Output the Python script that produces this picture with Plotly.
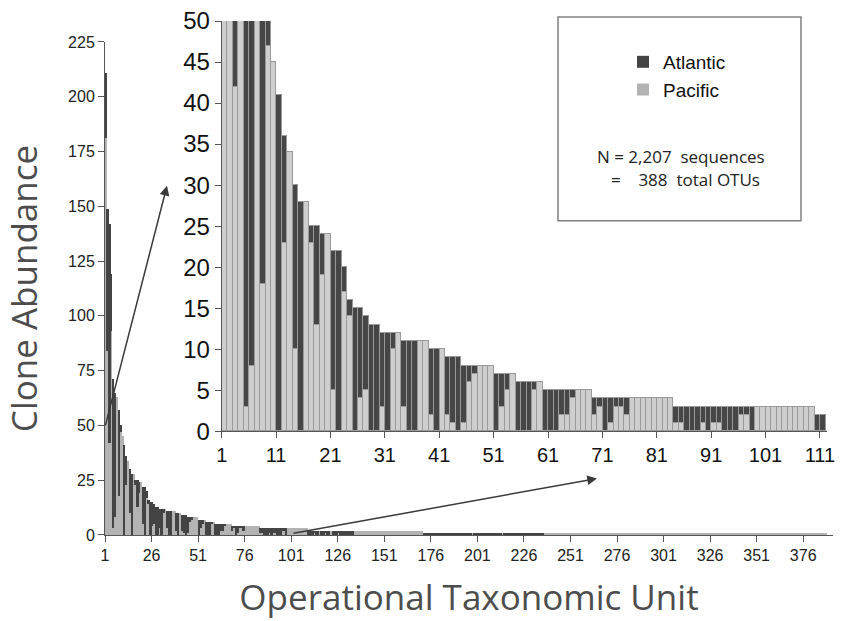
import plotly.graph_objects as go

W, H = 844, 621

# ---------------- data ----------------
otu = list(range(1, 389))

pacific = [
    181, 84, 42, 93, 3, 8, 63, 18, 47, 45, 0, 23, 34, 10, 0, 28, 23, 13, 19, 24,
    5, 0, 17, 14, 0, 4, 5, 0, 0, 3, 0, 10, 12, 3, 0, 0, 11, 11, 2, 0,
    10, 2, 1, 0, 1, 6, 7, 8, 8, 8, 0, 3, 5, 7, 0, 0, 0, 5, 6, 0,
    0, 0, 2, 2, 4, 5, 5, 5, 2, 3, 0, 1, 3, 3, 2, 4, 4, 4, 4, 4,
    4, 4, 4, 1, 1, 0, 0, 0, 1, 0, 1, 1, 0, 0, 0, 2, 2, 0, 3, 3,
    3, 3, 3, 3, 3, 3, 3, 3, 3, 0, 0, 0, 1, 0, 0, 2, 0, 0, 1, 0,
    0, 2, 0, 0, 0, 1, 0, 0, 0, 0, 0, 0, 0, 0, 2, 2, 2, 2, 2, 2,
    2, 2, 2, 2, 2, 2, 2, 2, 2, 2, 2, 2, 2, 2, 2, 2, 2, 2, 2, 2,
    2, 2, 2, 2, 2, 2, 2, 2, 2, 2, 2, 0, 0, 0, 0, 0, 0, 0, 0, 0,
    0, 0, 0, 0, 0, 0, 0, 0, 0, 0, 0, 0, 0, 0, 0, 0, 0, 1, 0, 0,
    0, 0, 0, 0, 0, 0, 0, 0, 0, 0, 0, 0, 0, 1, 0, 0, 0, 0, 0, 0,
    0, 0, 0, 0, 0, 0, 0, 0, 0, 0, 0, 0, 0, 0, 0, 0, 1, 1, 1, 1,
    1, 1, 1, 1, 1, 1, 1, 1, 1, 1, 1, 1, 1, 1, 1, 1, 1, 1, 1, 1,
    1, 1, 1, 1, 1, 1, 1, 1, 1, 1, 1, 1, 1, 1, 1, 1, 1, 1, 1, 1,
    1, 1, 1, 1, 1, 1, 1, 1, 1, 1, 1, 1, 1, 1, 1, 1, 1, 1, 1, 1,
    1, 1, 1, 1, 1, 1, 1, 1, 1, 1, 1, 1, 1, 1, 1, 1, 1, 1, 1, 1,
    1, 1, 1, 1, 1, 1, 1, 1, 1, 1, 1, 1, 1, 1, 1, 1, 1, 1, 1, 1,
    1, 1, 1, 1, 1, 1, 1, 1, 1, 1, 1, 1, 1, 1, 1, 1, 1, 1, 1, 1,
    1, 1, 1, 1, 1, 1, 1, 1, 1, 1, 1, 1, 1, 1, 1, 1, 1, 1, 1, 1,
    1, 1, 1, 1, 1, 1, 1, 1,
]

atlantic = [
    30, 65, 100, 26, 68, 57, 0, 39, 3, 0, 41, 13, 0, 20, 28, 0, 2, 12, 5, 0,
    17, 22, 3, 2, 15, 11, 9, 13, 13, 9, 12, 2, 0, 8, 11, 11, 0, 0, 8, 10,
    0, 7, 8, 9, 7, 2, 1, 0, 0, 0, 7, 4, 2, 0, 6, 6, 6, 1, 0, 5,
    5, 5, 3, 3, 1, 0, 0, 0, 2, 1, 4, 3, 1, 1, 2, 0, 0, 0, 0, 0,
    0, 0, 0, 2, 2, 3, 3, 3, 2, 3, 2, 2, 3, 3, 3, 1, 1, 3, 0, 0,
    0, 0, 0, 0, 0, 0, 0, 0, 0, 2, 2, 2, 1, 2, 2, 0, 2, 2, 1, 2,
    2, 0, 2, 2, 2, 1, 2, 2, 2, 2, 2, 2, 2, 2, 0, 0, 0, 0, 0, 0,
    0, 0, 0, 0, 0, 0, 0, 0, 0, 0, 0, 0, 0, 0, 0, 0, 0, 0, 0, 0,
    0, 0, 0, 0, 0, 0, 0, 0, 0, 0, 0, 1, 1, 1, 1, 1, 1, 1, 1, 1,
    1, 1, 1, 1, 1, 1, 1, 1, 1, 1, 1, 1, 1, 1, 1, 1, 1, 0, 1, 1,
    1, 1, 1, 1, 1, 1, 1, 1, 1, 1, 1, 1, 1, 0, 1, 1, 1, 1, 1, 1,
    1, 1, 1, 1, 1, 1, 1, 1, 1, 1, 1, 1, 1, 1, 1, 1, 0, 0, 0, 0,
    0, 0, 0, 0, 0, 0, 0, 0, 0, 0, 0, 0, 0, 0, 0, 0, 0, 0, 0, 0,
    0, 0, 0, 0, 0, 0, 0, 0, 0, 0, 0, 0, 0, 0, 0, 0, 0, 0, 0, 0,
    0, 0, 0, 0, 0, 0, 0, 0, 0, 0, 0, 0, 0, 0, 0, 0, 0, 0, 0, 0,
    0, 0, 0, 0, 0, 0, 0, 0, 0, 0, 0, 0, 0, 0, 0, 0, 0, 0, 0, 0,
    0, 0, 0, 0, 0, 0, 0, 0, 0, 0, 0, 0, 0, 0, 0, 0, 0, 0, 0, 0,
    0, 0, 0, 0, 0, 0, 0, 0, 0, 0, 0, 0, 0, 0, 0, 0, 0, 0, 0, 0,
    0, 0, 0, 0, 0, 0, 0, 0, 0, 0, 0, 0, 0, 0, 0, 0, 0, 0, 0, 0,
    0, 0, 0, 0, 0, 0, 0, 0,
]

inset_n = 111
main_ticks = list(range(1, 377, 25))
inset_ticks = list(range(1, 112, 10))

# ---------------- layout geometry (pixels) ----------------
ML, MR, MT, MB = 105, 11, 21, 85.5          # plot area = main chart x extent, inset top, main baseline
PW, PH = W - ML - MR, H - MT - MB

def px(x):  # pixel -> paper x
    return (x - ML) / PW

def py(y):  # pixel -> paper y
    return (H - MB - y) / PH

TICK_FONT = "Liberation Sans, Arial, sans-serif"
TITLE_FONT = "Open Sans, Noto Sans, sans-serif"

C_ATL = "#444444"
C_PAC = "#b3b3b3"
C_ATL_IN = "#464646"
C_PAC_IN = "#cecece"

fig = go.Figure()

# main chart
fig.add_trace(go.Bar(x=otu, y=pacific, name="Pacific", offset=0, width=1,
                     marker=dict(color=C_PAC, line=dict(width=0)),
                     xaxis="x", yaxis="y", showlegend=True, legendrank=2,
                     hoverinfo="skip"))
fig.add_trace(go.Bar(x=otu, y=atlantic, name="Atlantic", offset=0, width=1,
                     marker=dict(color=C_ATL, line=dict(width=0)),
                     xaxis="x", yaxis="y", showlegend=True, legendrank=1,
                     hoverinfo="skip"))

# inset (zoom of first 111 OTUs)
fig.add_trace(go.Bar(x=otu[:inset_n], y=pacific[:inset_n], name="Pacific", offset=0, width=1,
                     marker=dict(color=C_PAC_IN, line=dict(width=1, color="#9a9a9a")),
                     xaxis="x2", yaxis="y2", showlegend=False, hoverinfo="skip"))
fig.add_trace(go.Bar(x=otu[:inset_n], y=atlantic[:inset_n], name="Atlantic", offset=0, width=1,
                     marker=dict(color=C_ATL_IN, line=dict(width=1, color="#9a9a9a")),
                     xaxis="x2", yaxis="y2", showlegend=False, hoverinfo="skip"))

axis_common = dict(showgrid=False, zeroline=False, showline=True, linecolor="#555555",
                   linewidth=1, ticks="outside", tickcolor="#555555", ticklen=6,
                   automargin=False)

fig.update_layout(
    width=W, height=H, margin=dict(l=ML, r=MR, t=MT, b=MB, autoexpand=False),
    paper_bgcolor="white", plot_bgcolor="rgba(0,0,0,0)",
    barmode="stack", bargap=0,
    xaxis=dict(domain=[0, 1], range=[1, 392], anchor="y",
               tickmode="array", tickvals=main_ticks,
               tickfont=dict(family=TICK_FONT, size=16, color="#222222"),
               title=dict(text="Operational Taxonomic Unit", standoff=22,
                          font=dict(family=TITLE_FONT, size=35, color="#4d4d4d")),
               **axis_common),
    yaxis=dict(domain=[0, py(42)], range=[0, 225], anchor="x",
               tickmode="linear", tick0=0, dtick=25,
               tickfont=dict(family=TICK_FONT, size=16, color="#222222"),
               title=dict(text="Clone Abundance", standoff=20,
                          font=dict(family=TITLE_FONT, size=35, color="#4d4d4d")),
               **axis_common),
    xaxis2=dict(domain=[px(221.7), px(827)], range=[1, 112.3], anchor="y2",
                tickmode="array", tickvals=inset_ticks,
                tickfont=dict(family=TICK_FONT, size=20, color="#111111"),
                **axis_common),
    yaxis2=dict(domain=[py(431.7), 1], range=[0, 50], anchor="x2",
                tickmode="linear", tick0=0, dtick=5,
                tickfont=dict(family=TICK_FONT, size=24, color="#111111"),
                **axis_common),
    legend=dict(x=px(623), y=py(43), xanchor="left", yanchor="top",
                bgcolor="rgba(0,0,0,0)", borderwidth=0,
                font=dict(family=TICK_FONT, size=19, color="#111111"),
                traceorder="normal"),
)

# legend frame
fig.add_shape(type="rect", xref="paper", yref="paper",
              x0=px(558), x1=px(801), y0=py(221), y1=py(17),
              line=dict(color="#808080", width=1.5), fillcolor="rgba(0,0,0,0)")

fig.add_annotation(xref="paper", yref="paper", x=px(681), y=py(157),
                   xanchor="center", yanchor="middle",
                   text="N = 2,207&nbsp;&nbsp;sequences", showarrow=False,
                   font=dict(family=TITLE_FONT, size=17, color="#222222"))
fig.add_annotation(xref="paper", yref="paper", x=px(609), y=py(180),
                   xanchor="left", yanchor="middle",
                   text="=&nbsp;&nbsp;&nbsp;&nbsp;388&nbsp;&nbsp;total OTUs", showarrow=False,
                   font=dict(family=TITLE_FONT, size=17, color="#222222"))

# arrows linking main chart to inset
def arrow(tail, head):
    fig.add_annotation(xref="paper", yref="paper", x=px(head[0]), y=py(head[1]),
                       axref="pixel", ayref="pixel",
                       ax=tail[0] - head[0], ay=tail[1] - head[1],
                       text="", showarrow=True, arrowhead=2, arrowsize=1.3,
                       arrowwidth=1.5, arrowcolor="#3a3a3a", standoff=0, startstandoff=0)

arrow((105, 427), (167, 186))
arrow((292, 534), (597, 479))

fig.write_html("out.html")
